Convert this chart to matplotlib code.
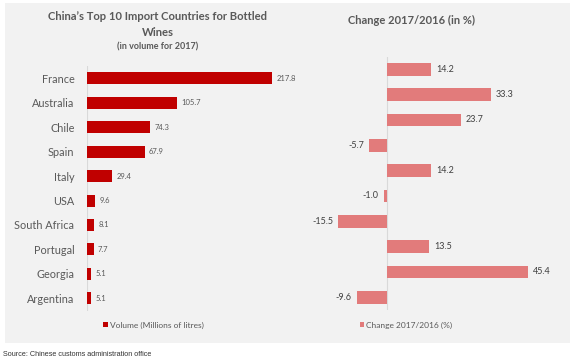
import matplotlib
matplotlib.use('Agg')
import matplotlib.pyplot as plt
from matplotlib.patches import Rectangle

countries = ['France', 'Australia', 'Chile', 'Spain', 'Italy', 'USA',
             'South Africa', 'Portugal', 'Georgia', 'Argentina']
volume = [217.8, 105.7, 74.3, 67.9, 29.4, 9.6, 8.1, 7.7, 5.1, 5.1]
change = [14.2, 33.3, 23.7, -5.7, 14.2, -1.0, -15.5, 13.5, 45.4, -9.6]

W, H = 576, 364
DARK_RED = '#c00000'
PINK = '#e27b7b'
GREY_TXT = '#595959'
plt.rcParams['font.family'] = ['Lato', 'DejaVu Sans']


def px_axes(fig, x0, y0, x1, y1):
    # pixel box (top-left origin) -> figure axes
    return fig.add_axes([x0 / W, 1 - y1 / H, (x1 - x0) / W, (y1 - y0) / H])


fig = plt.figure(figsize=(W / 100, H / 100), dpi=100)
fig.patch.set_facecolor('white')
fig.patches.append(Rectangle((5 / W, 1 - 343 / H), 565 / W, 340 / H,
                             transform=fig.transFigure, facecolor='#f2f2f2',
                             edgecolor='none', zorder=-10))

ypos = list(range(len(countries)))

# left chart: volume
ax1 = px_axes(fig, 87, 66.1, 287, 310.5)
b1 = ax1.barh(ypos, volume, height=0.49, color=DARK_RED,
              label='Volume (Millions of litres)')
ax1.set_xlim(0, 200 / 0.8494)
ax1.set_ylim(9.5, -0.5)
ax1.set_yticks(ypos)
ax1.set_yticklabels(countries, fontsize=7.8, color=GREY_TXT)
ax1.tick_params(axis='y', length=0, pad=9)
ax1.set_xticks([])
for v, y in zip(volume, ypos):
    ax1.text(v + 5, y, f'{v:.1f}', va='center', ha='left', fontsize=5.5,
             color=GREY_TXT)

# right chart: change
ax2 = px_axes(fig, 320, 56.6, 560, 310)
b2 = ax2.barh(ypos, change, height=0.5, color=PINK,
              label='Change 2017/2016 (%)')
ax2.set_xlim(-66.7 / 3.12, 173.3 / 3.12)
ax2.set_ylim(9.5, -0.5)
ax2.set_xticks([])
ax2.set_yticks([])
for v, y in zip(change, ypos):
    if v >= 0:
        ax2.text(v + 1.6, y, f'{v:.1f}', va='center', ha='left',
                 fontsize=6.5, color='#404040')
    else:
        ax2.text(v - 1.6, y, f'{v:.1f}', va='center', ha='right',
                 fontsize=6.5, color='#404040')

for ax in (ax1, ax2):
    ax.set_facecolor('none')
    for s in ax.spines.values():
        s.set_visible(False)
    ax.axvline(0, color='#d9d9d9', lw=0.8, zorder=0)

# titles
fig.text(158 / W, 1 - 17 / H, 'China\u2019s Top 10 Import Countries for Bottled',
         ha='center', va='center', fontsize=8.1, fontweight='bold', color=GREY_TXT)
fig.text(158 / W, 1 - 32 / H, 'Wines', ha='center', va='center', fontsize=8.1,
         fontweight='bold', color=GREY_TXT)
fig.text(158 / W, 1 - 47 / H, '(in volume for 2017)', ha='center', va='center',
         fontsize=6.5, fontweight='bold', color=GREY_TXT)
fig.text(412 / W, 1 - 20 / H, 'Change 2017/2016 (in %)', ha='center',
         va='center', fontsize=8, fontweight='bold', color=GREY_TXT)

# legends
ax1.legend(handles=[b1], loc='center left', bbox_to_anchor=(95 / W, 1 - 325 / H),
           bbox_transform=fig.transFigure, frameon=False, fontsize=6,
           handlelength=0.6, handleheight=0.6, handletextpad=0.3,
           labelcolor=GREY_TXT)
ax2.legend(handles=[b2], loc='center left', bbox_to_anchor=(352 / W, 1 - 325 / H),
           bbox_transform=fig.transFigure, frameon=False, fontsize=6,
           handlelength=0.5, handleheight=0.5, handletextpad=0.3,
           labelcolor=GREY_TXT)

fig.text(3 / W, 1 - 354 / H, 'Source: Chinese customs administration office',
         ha='left', va='center', fontsize=5.2, color='#333333',
         family=['Liberation Sans', 'DejaVu Sans'])

fig.savefig('out.png', dpi=100)
